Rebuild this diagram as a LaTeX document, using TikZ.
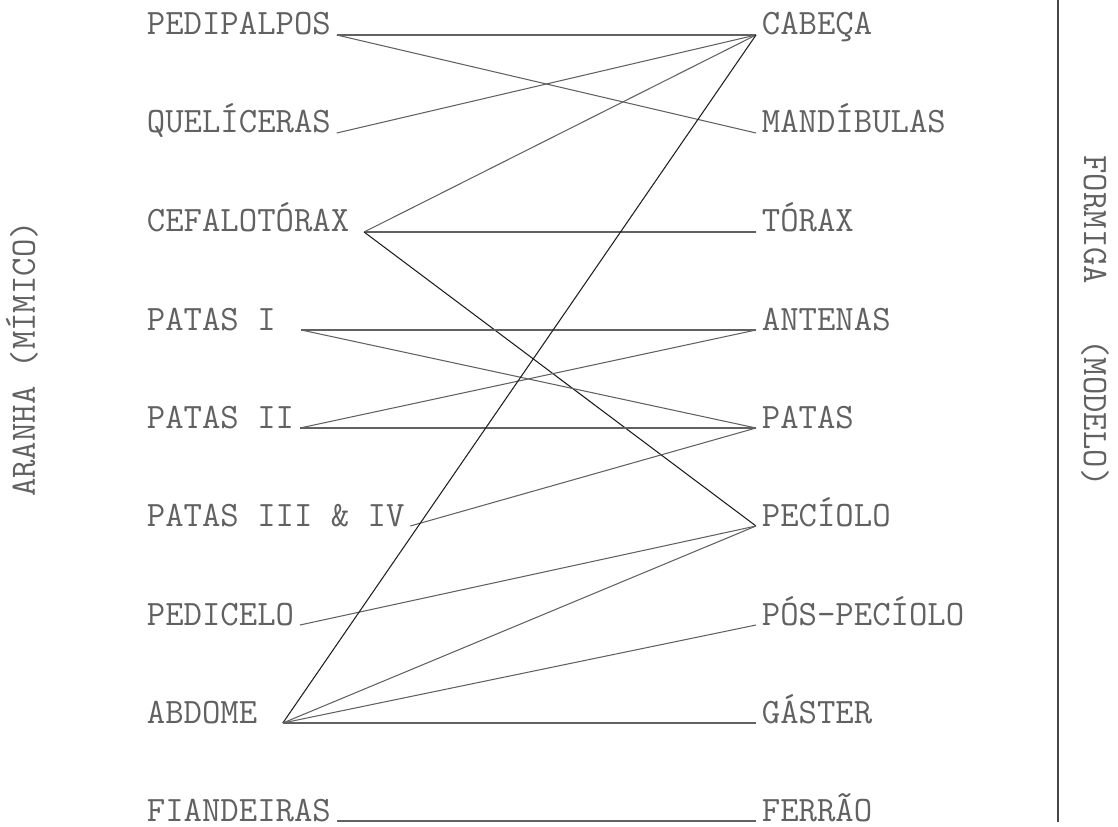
\documentclass[tikz,border=0pt]{standalone}
\usepackage{fontspec}
\usepackage{tikz}
\usetikzlibrary{positioning}

\begin{document}
\begin{tikzpicture}[x=0.025cm,y=-0.025cm,
    part/.style={inner xsep=4pt,inner ysep=2pt,text=black!62,
        font=\fontsize{25.4}{30}\selectfont\ttfamily},
    link/.style={black!62,line width=0.75pt},
    strong/.style={black!88,line width=0.75pt}]

    % PAGE
    \useasboundingbox (0,0) rectangle (1118,827);

    % LEFT COLUMN (ARANHA)
    \node[part,anchor=base west] (pedipalpos) at (141,35) {PEDIPALPOS};
    \node[part,anchor=base west] (queliceras) at (141,133) {QUELÍCERAS};
    \node[part,anchor=base west] (cefalotorax) at (141,232) {CEFALOTÓRAX\kern.25em};
    \node[part,anchor=base west] (patasI) at (141,330) {PATAS I\kern.55em};
    \node[part,anchor=base west] (patasII) at (141,428) {PATAS II};
    \node[part,anchor=base west] (patasIII) at (141,526) {PATAS III \& IV};
    \node[part,anchor=base west] (pedicelo) at (141,625) {PEDICELO};
    \node[part,anchor=base west] (abdome) at (141,723) {ABDOME\kern.55em};
    \node[part,anchor=base west] (fiandeiras) at (141,821) {FIANDEIRAS};

    % RIGHT COLUMN (FORMIGA)
    \node[part,anchor=base west] (cabeca) at (756,35) {CABEÇA};
    \node[part,anchor=base west] (mandibulas) at (756,133) {MANDÍBULAS};
    \node[part,anchor=base west] (torax) at (756,232) {TÓRAX};
    \node[part,anchor=base west] (antenas) at (756,330) {ANTENAS};
    \node[part,anchor=base west] (patas) at (756,428) {PATAS};
    \node[part,anchor=base west] (peciolo) at (756,526) {PECÍOLO};
    \node[part,anchor=base west] (pospeciolo) at (756,625) {PÓS-PECÍOLO};
    \node[part,anchor=base west] (gaster) at (756,723) {GÁSTER};
    \node[part,anchor=base west] (ferrao) at (756,821) {FERRÃO};

    % SIDE TITLES
    \node[part,rotate=90] (aranha) at (22,359) {ARANHA~(MÍMICO)};
    \node[part,rotate=-90] (formiga) at (1095,321) {FORMIGA~~~(MODELO)};
    \draw[black!72,line width=1.4pt] (1058,0) -- (1058,822);

    % HOMOLOGIES
    \draw[link] (pedipalpos.base east) -- (cabeca.base west);
    \draw[link] (pedipalpos.base east) -- (mandibulas.base west);
    \draw[link] (queliceras.base east) -- (cabeca.base west);
    \draw[link] (cefalotorax.base east) -- (cabeca.base west);
    \draw[link] (cefalotorax.base east) -- (torax.base west);
    \draw[strong] (cefalotorax.base east) -- (peciolo.base west);
    \draw[link] (patasI.base east) -- (antenas.base west);
    \draw[link] (patasI.base east) -- (patas.base west);
    \draw[link] (patasII.base east) -- (antenas.base west);
    \draw[link] (patasII.base east) -- (patas.base west);
    \draw[link] (patasIII.base east) -- (patas.base west);
    \draw[link] (pedicelo.base east) -- (peciolo.base west);
    \draw[strong] (abdome.base east) -- (cabeca.base west);
    \draw[link] (abdome.base east) -- (peciolo.base west);
    \draw[link] (abdome.base east) -- (pospeciolo.base west);
    \draw[link] (abdome.base east) -- (gaster.base west);
    \draw[link] (fiandeiras.base east) -- (ferrao.base west);

\end{tikzpicture}
\end{document}
